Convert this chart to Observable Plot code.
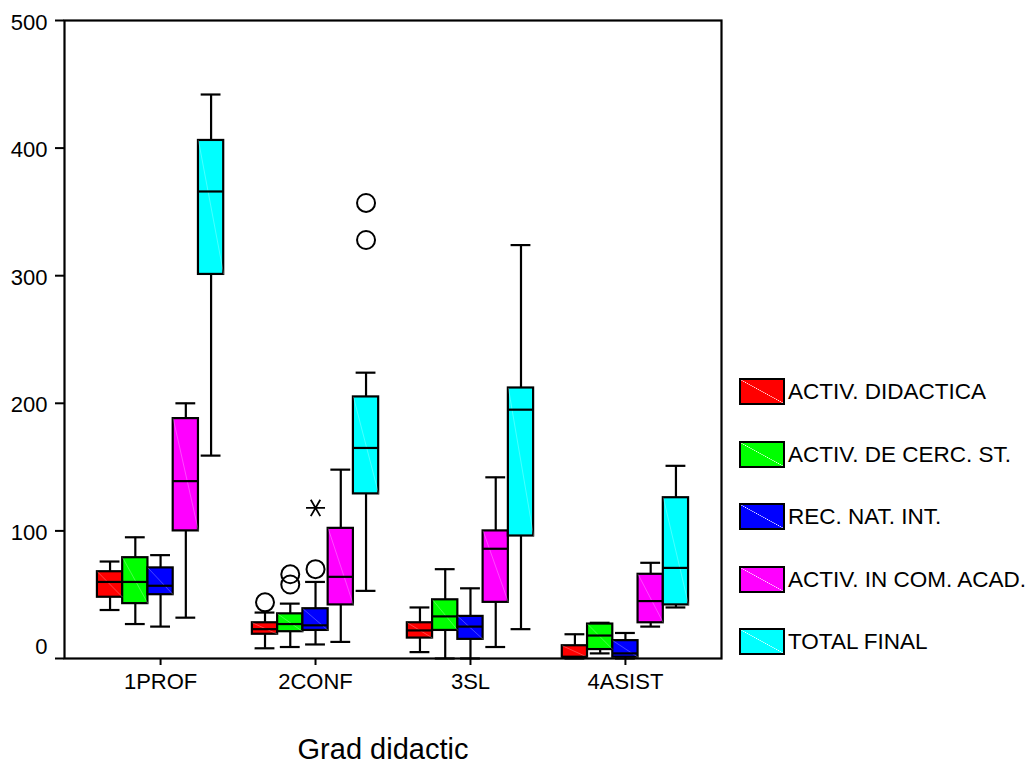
<!DOCTYPE html>
<html>
<head>
<meta charset="utf-8">
<script src="https://cdn.jsdelivr.net/npm/d3@7"></script>
<script src="https://cdn.jsdelivr.net/npm/@observablehq/plot@0.6"></script>
<style>
  html, body { margin: 0; padding: 0; background: #fff; }
  #wrap { position: relative; width: 1031px; height: 765px; overflow: hidden; font-family: "Liberation Sans", Arial, sans-serif; }
  #legend { position: absolute; left: 739px; top: 378px; }
  .row { position: absolute; left: 0; display: flex; align-items: center; white-space: nowrap; }
  .sw { width: 46px; height: 27px; box-sizing: border-box; border: 2px solid #000; }
  .lab { font-size: 22.5px; margin-left: 3px; color: #000; line-height: 27px; }
  #xtitle { position: absolute; left: 233px; width: 300px; top: 737.5px; text-align: center; font-size: 29px; line-height: 22px; color: #000; }
  #chart svg text { font-size: 22px !important; fill: #000; font-family: "Liberation Sans", Arial, sans-serif !important; }
</style>
</head>
<body>
<div id="wrap"><div id="chart"></div><div id="legend"></div><div id="xtitle"></div></div>
<script>
const groups = ["1PROF", "2CONF", "3SL", "4ASIST"];
const seriesNames = ["ACTIV. DIDACTICA", "ACTIV. DE CERC. ST.", "REC. NAT. INT.", "ACTIV. IN COM. ACAD.", "TOTAL FINAL"];
const seriesColors = ["#ff0000", "#00ff00", "#0000ff", "#ff00ff", "#00ffff"];
const xTitle = "Grad didactic";

// rows: groups, columns: series
const whiskerLow  = [[38, 27, 25, 32, 159], [8, 9, 11, 13, 53], [5, 0, 0, 9, 23], [0, 4, 0, 25, 40]];
const quartile1   = [[48, 43, 50, 100, 301], [19, 21, 22, 42, 129], [16, 22, 15, 44, 96], [1, 7, 1, 28, 42]];
const medians     = [[60, 60, 57, 139, 366], [23, 27, 26, 64, 165], [22, 33, 25, 86, 195], [1, 18, 4, 45, 71]];
const quartile3   = [[68, 79, 71, 188, 406], [28, 35, 39, 102, 205], [28, 46, 33, 100, 212], [10, 27, 14, 66, 126]];
const whiskerHigh = [[76, 95, 81, 200, 442], [36, 43, 60, 148, 224], [40, 70, 55, 142, 324], [19, 28, 20, 75, 151]];

const outlierGroups = ["2CONF", "2CONF", "2CONF", "2CONF", "2CONF", "2CONF"];
const outlierSeries = ["ACTIV. DIDACTICA", "ACTIV. DE CERC. ST.", "ACTIV. DE CERC. ST.", "REC. NAT. INT.", "TOTAL FINAL", "TOTAL FINAL"];
const outlierValues = [44, 58, 66, 70, 328, 357];

const extremeGroups = ["2CONF"];
const extremeSeries = ["REC. NAT. INT."];
const extremeValues = [118];

const yTicks = [0, 100, 200, 300, 400, 500];

// layout helpers (in x-scale units: one unit per group)
const boxStep = 0.163, boxHalf = 0.0815, capHalf = 0.064;
const xCenter = (g, s) => groups.indexOf(g) + (seriesNames.indexOf(s) - 2) * boxStep;

const boxes = [];
groups.forEach((g, gi) => seriesNames.forEach((s, si) => {
  const xc = xCenter(g, s);
  boxes.push({
    group: g, series: s, color: seriesColors[si],
    xc, xl: xc - boxHalf, xr: xc + boxHalf, cl: xc - capHalf, cr: xc + capHalf,
    lo: whiskerLow[gi][si], q1: quartile1[gi][si], med: medians[gi][si],
    q3: quartile3[gi][si], hi: whiskerHigh[gi][si]
  });
}));
const outliers = outlierValues.map((v, i) => ({x: xCenter(outlierGroups[i], outlierSeries[i]), y: v}));
const extremes = extremeValues.map((v, i) => ({x: xCenter(extremeGroups[i], extremeSeries[i]), y: v}));

const sw = 2.2;
const chart = Plot.plot({
  width: 1031,
  height: 765,
  marginLeft: 64,
  marginRight: 310,
  marginTop: 20,
  marginBottom: 107,
  style: {fontFamily: "'Liberation Sans', Arial, sans-serif", fontSize: "22px", background: "white", color: "black"},
  x: {domain: [-0.62, 3.62], axis: null},
  y: {domain: [0, 500], axis: null},
  marks: [
    Plot.ruleX(boxes, {x: "xc", y1: "lo", y2: "hi", stroke: "black", strokeWidth: sw}),
    Plot.ruleY(boxes, {y: "hi", x1: "cl", x2: "cr", stroke: "black", strokeWidth: sw}),
    Plot.ruleY(boxes, {y: "lo", x1: "cl", x2: "cr", stroke: "black", strokeWidth: sw}),
    Plot.rect(boxes, {x1: "xl", x2: "xr", y1: "q1", y2: "q3", fill: "color", stroke: "black", strokeWidth: sw}),
    Plot.link(boxes, {x1: "xl", y1: "q3", x2: "xr", y2: "q1", stroke: "white", strokeOpacity: 0.4, strokeWidth: 0.7}),
    Plot.ruleY(boxes, {y: "med", x1: "xl", x2: "xr", stroke: "black", strokeWidth: sw}),
    Plot.dot(outliers, {x: "x", y: "y", r: 9, stroke: "black", strokeWidth: 2, fill: "none"}),
    Plot.dot(extremes, {x: "x", y: "y", r: 9, symbol: "asterisk", rotate: 90, stroke: "black", strokeWidth: 1.8}),
    Plot.frame({stroke: "black", strokeWidth: 2.2}),
    Plot.axisY({ticks: yTicks, tickSize: 9, tickFormat: () => "", strokeWidth: 2, label: null}),
    Plot.axisY({ticks: yTicks.filter(d => d > 0), tickSize: 0, tickPadding: 17, dy: 2, label: null}),
    Plot.axisY({ticks: [0], tickSize: 0, tickPadding: 17, dy: -12, label: null}),
    Plot.axisX({ticks: [0, 1, 2, 3], tickFormat: i => groups[i], tickSize: 7, tickPadding: 8, strokeWidth: 2, label: null})
  ]
});
document.getElementById("chart").appendChild(chart);
document.getElementById("xtitle").textContent = xTitle;

const legend = d3.select("#legend");
seriesNames.forEach((name, i) => {
  const c = seriesColors[i];
  const row = legend.append("div").attr("class", "row").style("top", (i * 62.5) + "px");
  row.append("div").attr("class", "sw")
    .style("background", `linear-gradient(to top right, ${c} calc(50% - 0.5px), rgba(255,255,255,0.5) 50%, ${c} calc(50% + 0.5px))`);
  row.append("div").attr("class", "lab").text(name);
});
</script>
</body>
</html>
